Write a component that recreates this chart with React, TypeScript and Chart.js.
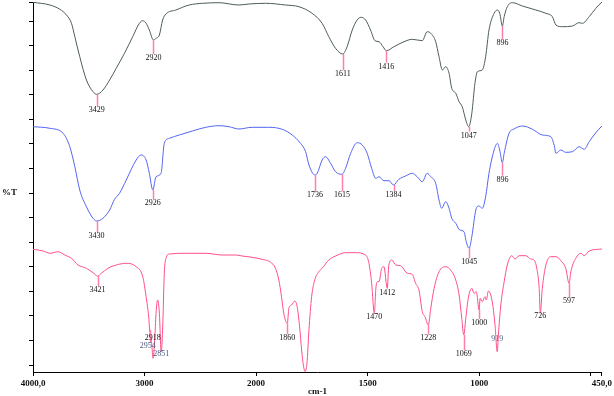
import React, { useEffect, useRef } from "react";
import { Chart, registerables } from "chart.js";

Chart.register(...registerables);

// ---------- DATA ----------
// wavenumbers (cm-1) and vertically offset transmittance values (arbitrary units)
const grayWn = [4000, 3848, 3759, 3700, 3655, 3625, 3581, 3521, 3462, 3429, 3373, 3313, 3254, 3180, 3106, 3046, 3016, 2986, 2957, 2920, 2897, 2867, 2838, 2808, 2719, 2600, 2481, 2333, 2154, 2065, 1958, 1868, 1808, 1749, 1704, 1674, 1644, 1611, 1592, 1569, 1547, 1529, 1509, 1487, 1467, 1449, 1431, 1416, 1382, 1337, 1300, 1255, 1233, 1217, 1195, 1180, 1165, 1150, 1135, 1123, 1105, 1090, 1076, 1060, 1047, 1033, 1019, 1008, 986, 971, 956, 933, 918, 908, 896, 888, 874, 851, 806, 746, 701, 672, 656, 627, 582, 552, 537, 507, 477, 450];
const grayT = [369.7, 367, 362.7, 357, 348.7, 335.3, 315.3, 292, 280.3, 277.7, 282, 292, 303.7, 318.7, 335.3, 348.7, 351.3, 348.7, 342, 332, 333.7, 337, 352, 358, 362, 367, 368.7, 369.3, 367, 368, 368.7, 367, 365.3, 358.7, 348.7, 335.3, 323.7, 318, 325.3, 342, 352, 354.7, 352, 342, 331.3, 330.3, 325.3, 321.3, 325.3, 330.3, 332.7, 331.3, 340.3, 338.7, 330.3, 315.3, 302, 305.3, 298.7, 283.7, 278.7, 270.3, 265.3, 252, 245.3, 258.7, 288.7, 300.3, 302, 315.3, 342, 358.7, 362, 358.7, 346, 355.3, 365.3, 369.3, 366, 362, 358.7, 355.3, 347, 345.3, 346, 349.3, 348.7, 355.3, 363.7, 370];

const blueWn = [4000, 3848, 3730, 3670, 3625, 3581, 3521, 3462, 3430, 3373, 3313, 3269, 3224, 3164, 3075, 3031, 2986, 2957, 2926, 2897, 2852, 2823, 2778, 2689, 2571, 2451, 2333, 2243, 2154, 2036, 1943, 1883, 1838, 1801, 1778, 1763, 1736, 1726, 1704, 1689, 1666, 1644, 1615, 1599, 1576, 1547, 1524, 1502, 1482, 1464, 1449, 1427, 1404, 1384, 1360, 1330, 1300, 1278, 1255, 1233, 1217, 1195, 1180, 1168, 1150, 1135, 1123, 1105, 1087, 1068, 1058, 1045, 1033, 1015, 1001, 986, 971, 956, 933, 918, 908, 896, 888, 866, 844, 806, 761, 717, 679, 664, 656, 634, 612, 582, 552, 529, 507, 477, 450];
const blueT = [245.3, 243.7, 238.7, 225.3, 205.3, 182, 165.3, 153.7, 151, 153.7, 162, 172.7, 178.7, 192, 212, 217, 212, 198.7, 182, 195.3, 198.7, 228.7, 233.7, 237, 241, 244.7, 246.3, 245.3, 243, 244.7, 244.7, 242.7, 237, 228.7, 220.3, 207, 197, 198.7, 212, 215.3, 208.7, 200.3, 197.7, 203.7, 218.7, 229.3, 227, 218.7, 203.7, 193.7, 195.3, 191.3, 191.3, 187, 192.7, 196, 198.7, 195.3, 190.3, 198.7, 195.3, 188.7, 172, 163.7, 170.3, 163.7, 153.7, 148.7, 142, 140.3, 130.3, 123.7, 135.3, 162, 166, 163.7, 175.3, 198.7, 222, 228.7, 222, 209.3, 218.7, 238.7, 243, 246, 242.7, 237, 235.3, 227, 218.7, 222, 219.7, 220.3, 225.3, 222.7, 230.3, 239.3, 246];

const pinkWn = [4000, 3908, 3848, 3774, 3715, 3655, 3596, 3521, 3462, 3421, 3387, 3329, 3254, 3164, 3075, 3016, 2986, 2963, 2954, 2936, 2924, 2909, 2897, 2883, 2867, 2851, 2838, 2823, 2808, 2778, 2629, 2451, 2303, 2184, 2125, 2036, 1973, 1935, 1913, 1898, 1886, 1876, 1860, 1853, 1841, 1826, 1816, 1805, 1796, 1787, 1781, 1772, 1763, 1751, 1737, 1719, 1704, 1674, 1644, 1599, 1554, 1509, 1494, 1482, 1470, 1463, 1456, 1449, 1437, 1427, 1412, 1405, 1392, 1374, 1352, 1322, 1300, 1285, 1270, 1255, 1243, 1228, 1217, 1202, 1180, 1150, 1128, 1105, 1090, 1078, 1069, 1060, 1049, 1033, 1023, 1013, 1000, 996, 986, 974, 968, 959, 948, 938, 929, 919, 914, 903, 888, 874, 854, 839, 821, 791, 769, 754, 739, 731, 726, 717, 701, 679, 656, 630, 612, 597, 589, 567, 544, 529, 507, 450];
const pinkT = [122.7, 121, 118.7, 120.3, 117, 113.7, 107, 103.7, 99.3, 96, 98.7, 103.7, 107, 108.7, 105.3, 95.3, 75.3, 55.3, 42, 28.7, 13.7, 32, 58.7, 72, 58.7, 20, 42, 98.7, 113.7, 118, 118.7, 118.7, 117, 117, 116, 114.7, 112.7, 109.7, 103.7, 92, 75.3, 58.7, 48.7, 63.7, 67, 71, 65.3, 45.3, 22, 5.3, 0.5, 8.7, 42, 75.3, 92, 100.3, 103.7, 112, 116, 119.3, 119.3, 117, 108.7, 88.7, 58.7, 84, 90.3, 90.3, 103.7, 105.3, 83.7, 107, 112, 107, 106.3, 98.7, 97.7, 88.7, 82, 60.3, 55.3, 47, 63.7, 83.7, 100.3, 105.3, 102, 92, 77, 53.7, 37, 53.7, 73.7, 83.7, 78.7, 80.3, 62, 73.7, 70.3, 75.3, 72, 81, 77, 65.3, 47, 20.3, 37, 67, 90.3, 107, 116.3, 113, 116.3, 116.3, 113, 112, 100.3, 83.7, 58.7, 83.7, 107, 115.3, 115.3, 110.3, 103.7, 88.7, 100.3, 113.7, 118.7, 116.3, 121, 123];

// labelled absorption bands
const grayPeaks = [3429, 2920, 1611, 1416, 1047, 896];
const bluePeaks = [3430, 2926, 1736, 1615, 1384, 896, 1045];
const pinkPeaks = [3421, 2954, 2918, 2851, 1860, 1470, 1412, 1228, 1069, 1000, 919, 726, 597];

// axis ticks
const xTickWn = [4000, 3000, 2000, 1500, 1000, 500, 450];
const xTickLabels = ["4000,0", "3000", "2000", "1500", "1000", "", "450,0"];
const yTickValues = [7, 31.6, 56.1, 80.7, 105.3, 129.9, 154.4, 179, 203.6, 228.1, 252.7, 277.3, 301.8, 326.4, 351, 370];

// ---------- HELPERS ----------
// spectrometer x-axis: scale doubles below 2000 cm-1
const toU = (w: number) => (w <= 2000 ? w : 2000 + (w - 2000) / 2);

const pts = (wn: number[], t: number[]) => wn.map((w, i) => ({ x: toU(w), y: t[i] }));

function valueAt(wn: number[], t: number[], w: number) {
  for (let i = 0; i < wn.length - 1; i++) {
    if (wn[i] >= w && wn[i + 1] <= w) {
      const f = (wn[i] - w) / (wn[i] - wn[i + 1] || 1);
      return t[i] + f * (t[i + 1] - t[i]);
    }
  }
  return t[t.length - 1];
}

const SERIF = "'Liberation Serif', 'Times New Roman', serif";
const GRAY = "#4d5c5c";
const BLUE = "#5265f2";
const PINK = "#ff4f86";
const MARK = "#ff7fab";

// label placement (layout only): [dx, dy from band minimum, colour]
const labelLayout: Record<string, [number, number, string]> = {
  "0:3429": [0, 16, "#111"], "0:2920": [0, 18, "#111"], "0:1611": [0, 20, "#111"],
  "0:1416": [0, 16, "#111"], "0:1047": [0, 9, "#111"], "0:896": [0, 17, "#111"],
  "1:3430": [0, 15, "#111"], "1:2926": [0, 13, "#111"], "1:1736": [0, 20, "#111"],
  "1:1615": [0, 21, "#111"], "1:1384": [0, 10, "#111"], "1:896": [0, 17, "#111"],
  "1:1045": [0, 14, "#111"],
  "2:3421": [0, 14, "#111"], "2:2954": [-2, 16, "#4a5680"], "2:2918": [-1, -13, "#111"],
  "2:2851": [0, 2, "#4a5680"], "2:1860": [0, 15, "#111"], "2:1470": [0, 4, "#111"],
  "2:1412": [0, 5, "#111"], "2:1228": [0, 13, "#111"], "2:1069": [0, 19, "#111"],
  "2:1000": [0, 13, "#111"], "2:919": [0, -13, "#55648a"], "2:726": [0, 3, "#111"],
  "2:597": [0, 18, "#111"],
};

const seriesSpecs = [
  { wn: grayWn, t: grayT, peaks: grayPeaks },
  { wn: blueWn, t: blueT, peaks: bluePeaks },
  { wn: pinkWn, t: pinkT, peaks: pinkPeaks },
];

const peakPlugin = {
  id: "peakLabels",
  afterDatasetsDraw(chart: any) {
    const ctx = chart.ctx;
    const xs = chart.scales.x;
    const ys = chart.scales.y;
    ctx.save();
    seriesSpecs.forEach((s, si) => {
      s.peaks.forEach((w) => {
        const [dx, dy, color] = labelLayout[`${si}:${w}`] || [0, 15, "#111"];
        const px = xs.getPixelForValue(toU(w));
        const py = ys.getPixelForValue(valueAt(s.wn, s.t, w));
        const ly = py + dy;
        if (ly - 4 - py > 2) {
          ctx.strokeStyle = MARK;
          ctx.lineWidth = 1.5;
          ctx.beginPath();
          ctx.moveTo(Math.round(px) + 0.5, py);
          ctx.lineTo(Math.round(px) + 0.5, ly - 4);
          ctx.stroke();
        }
        ctx.fillStyle = color;
        ctx.font = `8px ${SERIF}`;
        ctx.textAlign = "center";
        ctx.textBaseline = "middle";
        ctx.fillText(String(w), px + dx, ly);
      });
    });
    // y-axis title
    ctx.fillStyle = "#111";
    ctx.font = `bold 9px ${SERIF}`;
    ctx.textAlign = "left";
    ctx.textBaseline = "middle";
    ctx.fillText("%T", 2, 193);
    ctx.restore();
  },
};

export default function App() {
  const ref = useRef<HTMLCanvasElement | null>(null);

  useEffect(() => {
    if (!ref.current) return;
    Chart.defaults.font.family = SERIF;
    const chart = new Chart(ref.current, {
      type: "line",
      data: {
        datasets: [
          { data: pts(grayWn, grayT), borderColor: GRAY },
          { data: pts(blueWn, blueT), borderColor: BLUE },
          { data: pts(pinkWn, pinkT), borderColor: PINK },
        ].map((d) => ({
          ...d,
          borderWidth: 1,
          pointRadius: 0,
          fill: false,
          cubicInterpolationMode: "monotone" as const,
        })),
      },
      options: {
        responsive: false,
        animation: false,
        devicePixelRatio: 1,
        layout: { padding: { top: 2, right: 11, left: 0, bottom: 0 } },
        plugins: { legend: { display: false }, tooltip: { enabled: false } },
        scales: {
          x: {
            type: "linear",
            reverse: true,
            min: toU(450),
            max: toU(4000),
            afterBuildTicks: (scale: any) => {
              scale.ticks = xTickWn.map((w) => ({ value: toU(w) }));
            },
            afterFit: (scale: any) => {
              scale.height = 24;
            },
            ticks: {
              autoSkip: false,
              maxRotation: 0,
              padding: 2,
              color: "#111",
              font: { size: 9, weight: "bold" },
              callback: (_v: any, i: number) => xTickLabels[i],
            },
            grid: {
              drawOnChartArea: false,
              drawTicks: true,
              tickLength: 4,
              tickColor: "#000",
              color: "#000",
            },
            border: { display: true, color: "#000", width: 1 },
            title: {
              display: true,
              text: "cm-1",
              color: "#111",
              font: { size: 9, weight: "bold" },
              padding: { top: 0, bottom: -1 },
            },
          },
          y: {
            type: "linear",
            min: 0,
            max: 370,
            afterBuildTicks: (scale: any) => {
              scale.ticks = yTickValues.map((v) => ({ value: v }));
            },
            afterFit: (scale: any) => {
              scale.width = 33;
            },
            ticks: { display: false },
            grid: {
              drawOnChartArea: false,
              drawTicks: true,
              tickLength: 4,
              tickColor: "#000",
              color: "#000",
            },
            border: { display: true, color: "#000", width: 1 },
          },
        },
      } as any,
      plugins: [peakPlugin],
    });
    return () => chart.destroy();
  }, []);

  return (
    <div style={{ position: "absolute", left: 0, top: 0, width: 614, height: 396, background: "#fff" }}>
      <canvas ref={ref} width={614} height={396} style={{ display: "block" }} />
    </div>
  );
}
